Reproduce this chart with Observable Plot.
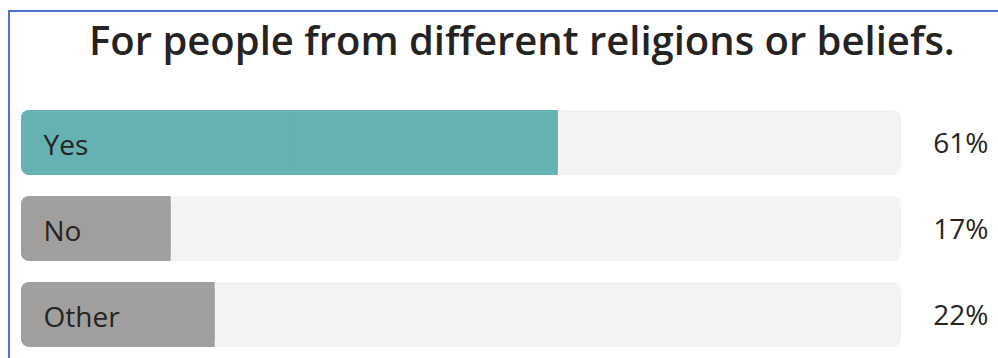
<!DOCTYPE html>
<html>
<head>
<meta charset="utf-8">
<script src="https://cdn.jsdelivr.net/npm/d3@7"></script>
<script src="https://cdn.jsdelivr.net/npm/@observablehq/plot@0.6"></script>
<style>
  html, body { margin: 0; padding: 0; background: #fff; }
  #wrap { position: relative; width: 998px; height: 358px; overflow: hidden; }
  #frame { position: absolute; left: 8px; top: 10px; width: 1100px; height: 400px;
           border-left: 2px solid #4a74cf; border-top: 2px solid #4a74cf; box-sizing: border-box; }
  #title { position: absolute; left: 89px; top: 16px; font-family: "Open Sans", sans-serif;
           font-weight: 600; font-size: 40px; color: #252423; white-space: nowrap; line-height: 48px; }
  #chart { position: absolute; left: 0; top: 0; }
</style>
</head>
<body>
<div id="wrap">
  <div id="frame"></div>
  <div id="title">For people from different religions or beliefs.</div>
  <div id="chart"></div>
</div>
<script>
const categories = ["Yes", "No", "Other"];
const percents = [61, 17, 22];
const barColors = ["#66b1b2", "#a19f9d", "#a19f9d"];

const data = categories.map((c, i) => ({answer: c, value: percents[i], color: barColors[i]}));

const chart = Plot.plot({
  width: 998,
  height: 358,
  marginLeft: 21,
  marginRight: 97,
  marginTop: 0,
  marginBottom: 0,
  x: {domain: [0, 100], axis: null},
  y: {domain: categories, range: [110, 347], paddingInner: 0.25, paddingOuter: 0, axis: null},
  style: {fontFamily: "'Open Sans', sans-serif", color: "#252423", background: "transparent"},
  marks: [
    Plot.barX(data, {y: "answer", x1: 0, x2: 100, fill: "#f3f3f3", rx: 8}),
    Plot.barX(data, {y: "answer", x1: 0, x2: "value", fill: "color", rx: 8}),
    Plot.barX(data, {y: "answer", x1: d => d.value / 2, x2: "value", fill: "color"}),
    Plot.text(data, {y: "answer", x: 0, text: "answer", textAnchor: "start", dx: 22, dy: 3,
                     fontSize: 28, fill: "#252423"}),
    Plot.text(data, {y: "answer", x: 100, text: d => d.value + "%", textAnchor: "end", dx: 87, dy: 1,
                     fontSize: 28, fill: "#252423"})
  ]
});
document.getElementById("chart").appendChild(chart);
</script>
</body>
</html>
